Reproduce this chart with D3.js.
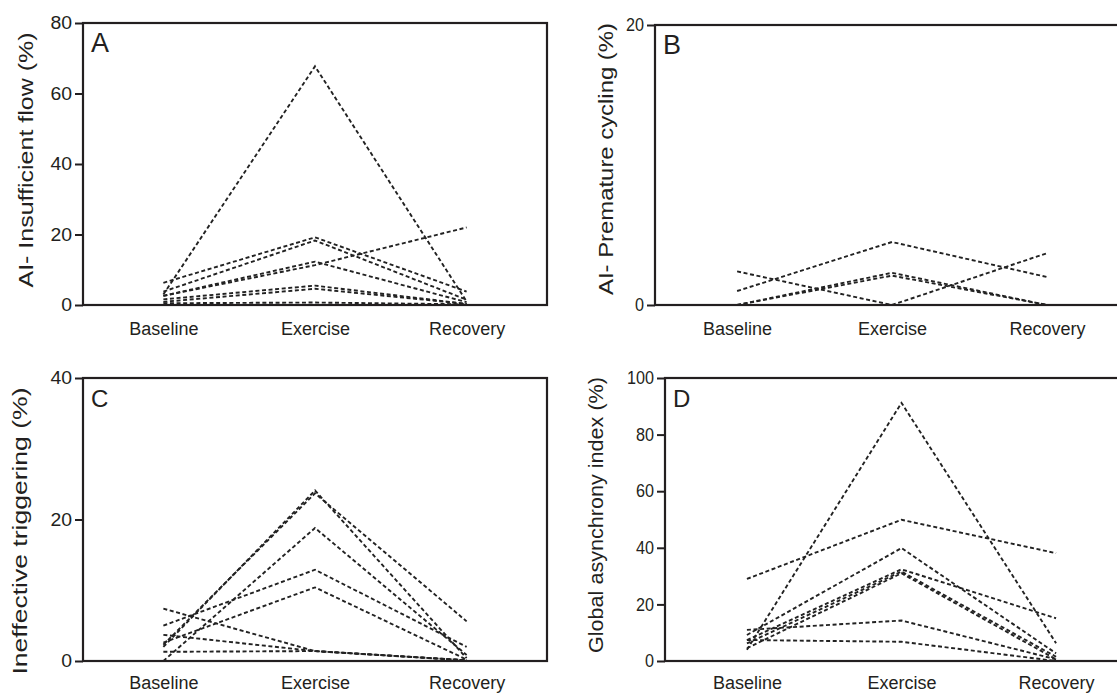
<!DOCTYPE html>
<html>
<head>
<meta charset="utf-8">
<script src="https://cdn.jsdelivr.net/npm/d3@7"></script>
<style>
  body { margin: 0; background: #fff; }
  svg { display: block; font-family: "Liberation Sans", Arial, sans-serif; }
</style>
</head>
<body>
<svg id="chart" width="1117" height="694"></svg>
<script>
'use strict'

const categories = ['Baseline', 'Exercise', 'Recovery']

// one row per patient: [baseline, exercise, recovery]
const insufficientFlow = [
    [3.0, 67.7, 1.0],
    [2.6, 11.3, 22.0],
    [6.3, 19.2, 3.8],
    [3.8, 18.3, 1.5],
    [2.6, 12.3, 0.8],
    [1.6, 5.5, 0.3],
    [0.9, 4.6, 0.3],
    [0.5, 0.7, 0.2]
]
const prematureCycling = [
    [1.0, 4.5, 2.0],
    [2.4, 0.0, 3.7],
    [0.0, 2.3, 0.0],
    [0.0, 2.1, 0.0]
]
const ineffectiveTriggering = [
    [7.4, 1.4, 0.1],
    [1.3, 1.4, 0.1],
    [3.7, 1.4, 0.1],
    [2.0, 24.1, 0.4],
    [2.3, 23.7, 5.6],
    [0.0, 18.8, 0.85],
    [5.0, 12.9, 2.0],
    [2.6, 10.4, 0.2]
]
const globalAsynchrony = [
    [29.0, 49.9, 38.1],
    [4.0, 91.2, 6.3],
    [9.2, 39.9, 2.7],
    [7.4, 32.4, 15.1],
    [6.2, 31.6, 1.5],
    [4.5, 31.0, 0.6],
    [11.0, 14.3, 0.6],
    [7.4, 6.8, 0.0]
]

const ticksA = [0, 20, 40, 60, 80]
const ticksB = [0, 20]
const ticksC = [0, 20, 40]
const ticksD = [0, 20, 40, 60, 80, 100]

const labelA = 'AI- Insufficient flow (%)'
const labelB = 'AI- Premature cycling (%)'
const labelC = 'Ineffective triggering (%)'
const labelD = 'Global asynchrony index (%)'

const ink = '#231f20'
const svg = d3.select('#chart')

// the source figure uses a slightly widened typeface, so labels get stretched
const panels = [
    { letter: 'A', data: insufficientFlow, ticks: ticksA, label: labelA,
      left: 83, top: 23, width: 464, height: 282,
      labelX: 33, labelY: 160, labelLen: 255, digitW: 10.8, catPad: 17, letterSize: 27 },
    { letter: 'B', data: prematureCycling, ticks: ticksB, label: labelB,
      left: 655, top: 25, width: 474, height: 280,
      labelX: 613, labelY: 159, labelLen: 272, digitW: 9, catPad: 17, letterSize: 27 },
    { letter: 'C', data: ineffectiveTriggering, ticks: ticksC, label: labelC,
      left: 83, top: 378, width: 464, height: 283,
      labelX: 27, labelY: 531, labelLen: 287, digitW: 10.8, catPad: 15, letterSize: 24 },
    { letter: 'D', data: globalAsynchrony, ticks: ticksD, label: labelD,
      left: 665, top: 378, width: 473, height: 283,
      labelX: 603, labelY: 515, labelLen: 276, digitW: 9, catPad: 15, letterSize: 24 }
]

panels.forEach(p => {
    const x = d3.scalePoint()
        .domain(categories)
        .range([p.left, p.left + p.width])
        .padding(0.53)

    const y = d3.scaleLinear()
        .domain([0, d3.max(p.ticks)])
        .range([p.top + p.height, p.top])

    const line = d3.line()
        .x((d, i) => x(categories[i]))
        .y(d => y(d))

    // patient lines
    svg.append('g')
        .selectAll('path')
        .data(p.data)
        .join('path')
        .attr('d', line)
        .attr('fill', 'none')
        .attr('stroke', '#222')
        .attr('stroke-width', 1.9)
        .attr('stroke-dasharray', '4,2.6')

    // frame
    svg.append('rect')
        .attr('x', p.left)
        .attr('y', p.top)
        .attr('width', p.width)
        .attr('height', p.height)
        .attr('fill', 'none')
        .attr('stroke', ink)
        .attr('stroke-width', 2.2)

    // y axis
    const gy = svg.append('g')
        .attr('transform', `translate(${p.left}, 0)`)
        .call(d3.axisLeft(y).tickValues(p.ticks).tickSize(8).tickPadding(3))
    gy.select('.domain').remove()
    gy.selectAll('line').attr('stroke', ink).attr('stroke-width', 2)
    gy.selectAll('text')
        .attr('fill', ink)
        .attr('textLength', d => String(d).length * p.digitW)
        .attr('lengthAdjust', 'spacingAndGlyphs')
        .style('font-size', '17.5px')
        .style('font-family', '"Liberation Sans", Arial, sans-serif')

    // category labels
    const gx = svg.append('g')
        .attr('transform', `translate(0, ${p.top + p.height})`)
        .call(d3.axisBottom(x).tickSize(0).tickPadding(p.catPad))
    gx.select('.domain').remove()
    gx.selectAll('text').attr('fill', ink).style('font-size', '18px')
        .style('font-family', '"Liberation Sans", Arial, sans-serif')

    // y label (labelX is the text baseline)
    svg.append('text')
        .attr('transform', `translate(${p.labelX}, ${p.labelY}) rotate(-90)`)
        .attr('text-anchor', 'middle')
        .attr('textLength', p.labelLen)
        .attr('lengthAdjust', 'spacingAndGlyphs')
        .attr('fill', ink)
        .style('font-size', '21px')
        .text(p.label)

    // panel letter
    svg.append('text')
        .attr('x', p.left + 8)
        .attr('y', p.top + 29)
        .attr('fill', ink)
        .style('font-size', p.letterSize + 'px')
        .text(p.letter)
})
</script>
</body>
</html>
